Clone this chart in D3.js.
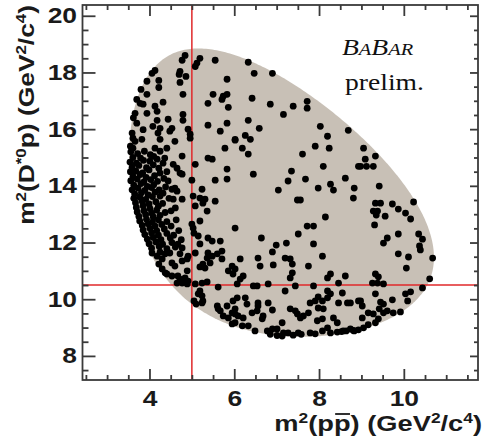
<!DOCTYPE html>
<html>
<head>
<meta charset="utf-8">
<script src="https://cdn.jsdelivr.net/npm/d3@7"></script>
<style>
  body { margin: 0; background: #fff; }
  svg { display: block; }
</style>
</head>
<body>
<div id="chart"></div>
<script>
// masses in GeV/c^2, used for the kinematic (Dalitz) boundary
const mB = 5.2796, mDst = 2.00685, mP = 0.93827;
// cut lines
const cutPP = 5.0, cutDP = 10.5;
// ticks
const xMajor = [4, 6, 8, 10];
const xMinor = [2.5, 3, 3.5, 4.5, 5, 5.5, 6.5, 7, 7.5, 8.5, 9, 9.5, 10.5, 11, 11.5];
const yMajor = [8, 10, 12, 14, 16, 18, 20];
const yMinor = [7.5, 8.5, 9, 9.5, 10.5, 11, 11.5, 12.5, 13, 13.5, 14.5, 15, 15.5, 16.5, 17, 17.5, 18.5, 19, 19.5];

// events: [m2(p pbar), m2(D*0 p)]
const upperLeft = [
  [4.84,18.60],[4.77,18.43],[5.19,18.50],[5.12,18.33],[5.08,18.21],[5.55,18.43],
  [4.13,18.07],[4.06,17.97],[4.72,18.04],[4.70,17.93],[4.86,17.86],[4.22,17.72],
  [3.94,17.69],[4.72,17.65],[5.83,17.76],[4.22,17.47],[3.80,17.40],[3.94,17.23],
  [4.79,17.23],[5.50,17.23],[3.70,17.05],[3.78,16.91],[3.85,16.88],[4.32,16.95],
  [5.38,16.91],[5.74,17.16],[5.83,17.23],[5.71,17.05],[5.86,16.77],[4.13,16.81],
  [4.18,16.63],[3.66,16.56],[3.94,16.56],[4.79,16.52],[4.79,16.31],[4.44,16.35],
  [4.18,16.31],[3.70,16.21],[5.83,16.21],[4.08,16.10],[4.25,16.03],[4.53,16.03],
  [4.48,15.93],[5.38,16.14],[4.91,16.00],[4.96,15.82],[3.59,15.86],[3.61,15.68],
  [3.66,15.57],[3.82,15.64],[4.20,15.86],[4.25,15.64],[4.60,15.57],[5.67,15.93],
  [4.96,15.68],[5.78,15.33],[6.02,15.64],[3.55,15.40],[3.61,15.33],[4.13,15.33],
  [3.85,15.98],[3.62,16.40]
];
const upperRight = [
  [6.33,18.36],[6.47,17.97],[6.90,17.97],[6.42,17.09],[6.85,16.88],[7.39,16.81],
  [7.72,16.98],[7.72,16.74],[7.16,16.52],[6.33,16.31],[6.59,16.03],[8.03,16.10],
  [8.20,15.75],[8.69,15.96],[6.02,15.61],[6.26,15.78],[6.38,15.64],[6.19,15.33],
  [7.91,15.40],[8.24,15.33]
];
const middle = [
  [6.33,15.12],[7.61,15.12],[8.10,14.69],[8.93,14.69],[6.45,14.41],[7.35,14.52],
  [7.27,14.17],[7.68,14.24],[8.62,14.27],[7.98,13.92],[8.27,14.06],[8.34,13.85],
  [8.83,13.92],[8.81,13.57],[7.04,13.85],[7.49,13.50],[7.56,13.50],[8.15,12.90],
  [6.02,12.51],[7.72,12.58],[7.87,12.58],[7.51,12.30],[6.64,12.16],[7.23,11.98],
  [6.99,11.91],[7.87,11.95],[6.90,11.67],[6.14,11.42],[6.56,11.45],[7.20,11.45],
  [7.32,11.42],[8.08,11.52]
];
const rightEdge = [
  [9.05,15.33],[9.33,15.05],[9.09,14.94],[8.98,14.69],[9.12,14.69],[9.28,14.69],
  [9.42,13.99],[9.33,13.39],[9.45,13.39],[9.73,13.36],[10.23,13.43],[9.87,13.18],
  [9.28,13.11],[9.38,13.11],[9.35,12.97],[10.04,13.04],[9.56,12.93],[10.16,12.83],
  [9.31,12.62],[9.87,12.30],[10.35,12.30],[9.61,12.16],[9.52,11.98],[10.44,12.12],
  [10.37,11.88],[10.39,11.74],[9.87,11.60],[10.11,11.49],[10.68,11.45],
  [10.06,11.10],[9.33,10.89],[9.40,10.79],[9.26,10.57],[9.38,10.57],[9.52,10.54],
  [10.61,10.72],[9.33,10.19],[10.44,10.40],[10.16,10.26],[10.04,10.19],
  [8.98,9.94],[9.02,9.76],[9.45,9.90],[9.52,9.83],[9.73,9.98],[10.09,9.94],
  [9.42,9.66],[9.52,9.52],[9.61,9.59],[9.16,9.52],[9.28,9.48],[9.75,9.52],[9.92,9.55],
  [9.02,9.34],[9.40,9.31],[9.33,9.17],[9.16,9.10],[9.05,8.99],[8.93,8.92],[8.83,8.88],
  [8.74,9.87]
];
const lowBand = [
  [5.95,11.17],[6.61,11.17],[6.92,11.21],[7.37,11.24],[7.75,11.17],
  [5.97,10.89],[6.21,10.82],[6.14,10.71],[7.37,10.93],[7.32,10.75],
  [8.27,10.89],[8.20,10.75],[8.62,10.82],[8.46,10.57],[6.07,10.54],
  [6.45,10.47],[6.54,10.47],[6.80,10.54],[7.44,10.47],[7.87,10.47],
  [7.20,10.29],[8.20,10.29],[8.27,10.19],[8.55,10.22],[6.07,10.05],
  [5.97,9.94],[6.26,10.05],[6.30,9.83],[6.56,9.87],[6.56,9.76],
  [6.80,9.87],[6.90,9.62],[7.79,9.87],[7.91,9.94],[7.98,10.08],
  [8.08,9.94],[8.20,10.05],[8.46,9.87],[8.67,9.87],[8.93,9.94],
  [7.32,9.66],[7.44,9.59],[7.49,9.48],[7.56,9.34],[7.63,9.41],[7.75,9.52],
  [7.98,9.69],[8.10,9.66],[6.42,9.52],[6.54,9.59],[6.02,9.66],[6.09,9.41],
  [6.21,9.34],[6.68,9.41],[6.66,9.31],[8.34,9.34],[8.43,9.17],[7.96,9.24],
  [8.08,9.31],[6.02,9.17],[5.95,9.13],[6.19,9.06],[6.33,9.06],[6.49,8.88],
  [6.78,8.88],[6.90,8.95],[7.01,8.95],[7.16,8.81],[7.27,8.81],[7.39,8.73],
  [7.51,8.81],[7.79,8.81],[7.91,8.78],[8.08,8.88],[8.20,8.99],[8.27,8.81],
  [8.43,8.84],[8.57,8.88],[8.74,8.95],[8.81,8.90],[7.13,9.17],[7.01,8.72],
  [7.13,8.70],[6.85,8.76],[7.58,8.76],[8.53,8.86],[8.64,8.88]
];
const lowLeft = [
  [4.06,11.63],[4.18,11.52],[4.30,11.42],[4.37,11.60],[4.48,11.63],
  [4.53,11.28],[4.60,11.17],[4.77,11.35],[4.89,11.42],[4.91,11.52],
  [4.22,11.24],[4.30,11.07],[4.37,10.93],[4.41,10.89],[4.53,10.82],
  [4.67,10.82],[4.72,10.71],[4.84,10.75],[4.89,11.00],[4.65,10.57],
  [4.77,10.57],[4.91,10.64],[4.89,10.54],[5.08,11.63],[5.38,11.63],
  [5.48,11.52],[5.36,11.45],[5.43,11.28],[5.26,11.24],[5.19,11.14],
  [5.31,11.10],[5.60,11.60],[5.71,11.42],[5.86,11.00],[6.02,11.07],
  [5.08,10.54],[5.24,10.57],[5.36,10.61],[5.62,10.43],[5.19,10.29],
  [5.24,10.12],[5.15,10.19],[5.26,9.94],[5.24,9.87],[5.05,9.94],
  [5.10,9.83],[5.60,9.76],[5.62,9.66],[5.67,9.59],[5.83,9.76],
  [5.95,9.52],[6.02,9.48],[5.74,9.41],[5.86,9.34]
];
const nearCut = [
  [5.38,14.98],[5.48,14.94],[5.83,14.59],[5.83,14.24],[5.55,14.20],[5.08,14.76],
  [5.00,14.20],[5.03,13.64],[5.24,13.88],[5.19,13.57],[5.31,13.53],[5.26,13.39],
  [5.08,13.29],[5.55,13.46],[5.19,12.76],[5.36,13.11],[5.00,12.65],[5.03,12.51],
  [5.05,12.33],[5.15,12.23],[5.38,12.16],[5.48,12.05],[5.67,12.05],[5.19,11.95],
  [5.71,11.70],[4.77,11.81],[4.72,11.60],
  [4.72,14.45],[4.77,14.41],[4.60,13.92],[4.53,13.88],[4.65,13.81],[4.77,13.53],
  [4.56,13.53],[4.25,13.64],[4.32,13.74],[4.44,14.17],[4.25,14.45],[4.56,14.76],
  [4.65,14.62],[4.77,15.05],[4.32,14.80],[4.18,14.94],[4.01,14.87],[4.25,15.22],
  [4.41,15.33]
];
const denseEdge = [
  [3.56,15.20],[3.72,15.14],[3.88,15.22],[4.02,15.10],
  [3.61,15.00],[3.79,14.98],[4.10,15.04],[4.36,14.98],
  [3.54,14.84],[3.69,14.80],[3.86,14.90],
  [3.59,14.66],[3.75,14.72],[3.93,14.64],[4.09,14.74],[4.22,14.62],
  [3.55,14.50],[3.68,14.52],[3.84,14.46],[3.99,14.56],[4.41,14.50],
  [3.61,14.34],[3.78,14.40],[3.92,14.30],[4.12,14.36],
  [3.56,14.18],[3.71,14.24],[3.87,14.14],[4.03,14.22],[4.19,14.16],[4.34,14.26],
  [3.63,14.02],[3.80,14.08],[3.95,13.98],[4.10,14.04],
  [3.59,13.86],[3.73,13.92],[3.89,13.84],[4.05,13.94],[4.23,13.86],[4.38,13.96],
  [3.65,13.72],[3.81,13.76],[3.97,13.68],[4.13,13.78],
  [3.63,13.56],[3.77,13.60],[3.91,13.52],[4.07,13.62],[4.46,13.56],
  [3.67,13.40],[3.83,13.46],[3.99,13.36],[4.15,13.44],[4.31,13.38],
  [3.69,13.24],[3.85,13.30],[4.01,13.20],[4.21,13.28],[4.61,13.22],
  [3.71,13.08],[3.87,13.12],[4.05,13.04],[4.17,13.14],[4.37,13.06],[4.51,13.12],
  [3.75,12.92],[3.91,12.98],[4.09,12.90],[4.25,12.96],
  [3.77,12.76],[3.93,12.82],[4.07,12.72],[4.21,12.80],[4.41,12.74],[4.63,12.80],
  [3.83,12.60],[3.97,12.66],[4.13,12.58],[4.29,12.64],[4.51,12.58],
  [3.85,12.44],[4.01,12.50],[4.17,12.42],[4.35,12.48],[4.69,12.42],
  [3.89,12.28],[4.05,12.34],[4.21,12.26],[4.41,12.32],[4.57,12.26],
  [3.95,12.12],[4.09,12.18],[4.27,12.10],[4.49,12.16],[4.75,12.10],
  [3.99,11.96],[4.15,12.02],[4.31,11.94],[4.53,12.00],[4.67,11.94],
  [4.05,11.80],[4.23,11.86],[4.41,11.78],[4.61,11.84],
  [4.25,11.66]
];
const events = [].concat(upperLeft, upperRight, middle, rightEdge, lowBand, lowLeft, nearCut, denseEdge);

const width = 483, height = 446;
const L = 82.5, R = 478, T = 5, B = 380;

const svg = d3.select("#chart").append("svg")
  .attr("width", width).attr("height", height);

const x = d3.scaleLinear().domain([2.42, 11.75]).range([L, R]);
const y = d3.scaleLinear().domain([7.15, 20.38]).range([B, T]);

// kinematic boundary of the Dalitz plot
function dalitzLimits(s) {
  const m12 = Math.sqrt(s);
  const e2 = m12 / 2;
  const e3 = (mB * mB - s - mDst * mDst) / (2 * m12);
  const p2 = Math.sqrt(Math.max(e2 * e2 - mP * mP, 0));
  const p3 = Math.sqrt(Math.max(e3 * e3 - mDst * mDst, 0));
  const sum = (e2 + e3) * (e2 + e3);
  return [sum - (p2 + p3) * (p2 + p3), sum - (p2 - p3) * (p2 - p3)];
}
const sMin = 4 * mP * mP, sMax = (mB - mDst) * (mB - mDst);
const nStep = 200;
const upper = [], lower = [];
for (let i = 0; i <= nStep; i++) {
  const s = sMin + (sMax - sMin) * (1 - Math.cos(Math.PI * i / nStep)) / 2;
  const [lo, hi] = dalitzLimits(s);
  upper.push([s, hi]);
  lower.push([s, lo]);
}
const boundary = upper.concat(lower.reverse());

svg.append("path")
  .datum(boundary)
  .attr("d", d3.line().x(d => x(d[0])).y(d => y(d[1])).curve(d3.curveLinearClosed))
  .attr("fill", "#c8c0b6")
  .attr("stroke", "none");

// cut lines
svg.append("line")
  .attr("x1", x(cutPP)).attr("x2", x(cutPP))
  .attr("y1", T).attr("y2", B)
  .attr("stroke", "#e0282a").attr("stroke-width", 1.5);
svg.append("line")
  .attr("x1", L).attr("x2", R)
  .attr("y1", y(cutDP)).attr("y2", y(cutDP))
  .attr("stroke", "#e0282a").attr("stroke-width", 1.5);

// events
svg.append("g")
  .selectAll("circle")
  .data(events)
  .enter()
  .append("circle")
  .attr("cx", d => x(d[0]))
  .attr("cy", d => y(d[1]))
  .attr("r", 3.4)
  .attr("fill", "#000");

// axes, ticks pointing inward on all four sides
const axisColor = "#3a3a3a";
function styleAxis(g) {
  g.select(".domain").remove();
  g.selectAll(".tick line").attr("stroke", axisColor).attr("stroke-width", 1.8);
  g.selectAll("text")
    .attr("font-family", "'Liberation Sans', Arial, sans-serif")
    .attr("font-weight", "bold")
    .attr("font-size", 22)
    .attr("fill", "#1a1a1a")
    .attr("transform", "scale(1.2,1)");
}

svg.append("g").attr("transform", `translate(0,${B})`)
  .call(d3.axisBottom(x).tickValues(xMajor).tickSize(-11).tickPadding(10.5).tickFormat(d3.format("d")))
  .call(styleAxis);
svg.append("g").attr("transform", `translate(0,${B})`)
  .call(d3.axisBottom(x).tickValues(xMinor).tickSize(-5).tickFormat(""))
  .call(styleAxis);
svg.append("g").attr("transform", `translate(0,${T})`)
  .call(d3.axisTop(x).tickValues(xMajor).tickSize(-11).tickFormat(""))
  .call(styleAxis);
svg.append("g").attr("transform", `translate(0,${T})`)
  .call(d3.axisTop(x).tickValues(xMinor).tickSize(-5).tickFormat(""))
  .call(styleAxis);

svg.append("g").attr("transform", `translate(${L},0)`)
  .call(d3.axisLeft(y).tickValues(yMajor).tickSize(-13).tickPadding(4.6).tickFormat(d3.format("d")))
  .call(styleAxis);
svg.append("g").attr("transform", `translate(${L},0)`)
  .call(d3.axisLeft(y).tickValues(yMinor).tickSize(-6).tickFormat(""))
  .call(styleAxis);
svg.append("g").attr("transform", `translate(${R},0)`)
  .call(d3.axisRight(y).tickValues(yMajor).tickSize(-8).tickFormat(""))
  .call(styleAxis);
svg.append("g").attr("transform", `translate(${R},0)`)
  .call(d3.axisRight(y).tickValues(yMinor).tickSize(-4).tickFormat(""))
  .call(styleAxis);

svg.append("rect")
  .attr("x", L).attr("y", T)
  .attr("width", R - L).attr("height", B - T)
  .attr("fill", "none")
  .attr("stroke", axisColor)
  .attr("stroke-width", 1.8);

// axis titles
const titleFont = "'Liberation Sans', Arial, sans-serif";
const xg = svg.append("g").attr("transform", "translate(482,431) scale(1.24,1)");
const xt = xg.append("text")
  .attr("text-anchor", "end")
  .attr("font-family", titleFont).attr("font-weight", "bold")
  .attr("font-size", 22).attr("fill", "#1a1a1a");
xt.append("tspan").text("m");
xt.append("tspan").attr("font-size", 14).attr("dy", -8).text("2");
xt.append("tspan").attr("dy", 8).text("(pp");
xt.append("tspan").text(") (GeV");
xt.append("tspan").attr("font-size", 14).attr("dy", -8).text("2");
xt.append("tspan").attr("dy", 8).text("/c");
xt.append("tspan").attr("font-size", 14).attr("dy", -8).text("4");
xt.append("tspan").attr("dy", 8).text(")");
// bar over the antiproton (5th character)
const xn = xt.node();
const barStart = xn.getStartPositionOfChar(4).x;
const barEnd = xn.getEndPositionOfChar(4).x;
xg.append("line")
  .attr("x1", barStart + 1).attr("x2", barEnd - 0.5)
  .attr("y1", -17).attr("y2", -17)
  .attr("stroke", "#1a1a1a").attr("stroke-width", 1.8);

const yt = svg.append("text")
  .attr("transform", "translate(34,5) rotate(-90) scale(1.2,1)")
  .attr("text-anchor", "end")
  .attr("font-family", titleFont).attr("font-weight", "bold")
  .attr("font-size", 22).attr("fill", "#1a1a1a");
yt.append("tspan").text("m");
yt.append("tspan").attr("font-size", 14).attr("dy", -8).text("2");
yt.append("tspan").attr("dy", 8).text("(D");
yt.append("tspan").attr("font-size", 14).attr("dy", -8).text("*0");
yt.append("tspan").attr("dy", 8).text("p) (GeV");
yt.append("tspan").attr("font-size", 14).attr("dy", -8).text("2");
yt.append("tspan").attr("dy", 8).text("/c");
yt.append("tspan").attr("font-size", 14).attr("dy", -8).text("4");
yt.append("tspan").attr("dy", 8).text(")");

// experiment label
const serif = "'Liberation Serif', 'DejaVu Serif', serif";
const bb = svg.append("text")
  .attr("transform", "translate(342,55) scale(1.2,1)")
  .attr("font-family", serif).attr("font-style", "italic")
  .attr("fill", "#111");
bb.append("tspan").attr("font-size", 23).text("B");
bb.append("tspan").attr("font-size", 17).text("A");
bb.append("tspan").attr("font-size", 23).text("B");
bb.append("tspan").attr("font-size", 17).text("AR");
svg.append("text")
  .attr("transform", "translate(345,90) scale(1.15,1)")
  .attr("font-family", serif)
  .attr("font-size", 24).attr("fill", "#111")
  .text("prelim.");
</script>
</body>
</html>
